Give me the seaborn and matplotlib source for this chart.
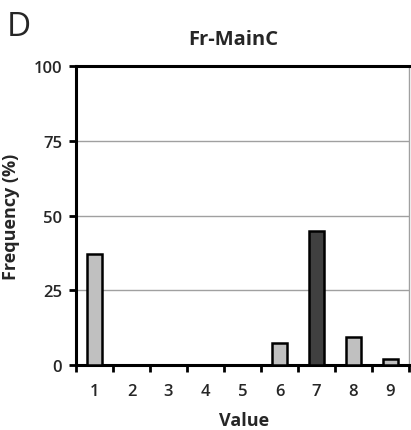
import matplotlib
matplotlib.use("Agg")
import matplotlib.pyplot as plt
import seaborn as sns
import pandas as pd
import numpy as np

categories = ["1", "2", "3", "4", "5", "6", "7", "8", "9"]
frequency = [37.0, 0, 0, 0, 0, 7.5, 44.7, 9.5, 2.0]
bar_colors = ["#C0C0C0"] * 6 + ["#404040"] + ["#C0C0C0"] * 2
y_ticks = [0, 25, 50, 75, 100]

sns.set_style("white")
plt.rcParams['font.family'] = ['Open Sans', 'DejaVu Sans']

fig = plt.figure(figsize=(4.11, 4.31), dpi=100)
ax = fig.add_axes([76/411, 1-366/431, (409-76)/411, (366-67)/431])

df = pd.DataFrame({"Value": categories, "Frequency": frequency})
sns.barplot(data=df, x="Value", y="Frequency", hue="Value", palette=bar_colors,
            legend=False, width=0.42, edgecolor="black", linewidth=1.8, ax=ax, zorder=3)

ax.set_xlim(-0.5, len(categories) - 0.5)
ax.set_ylim(0, 100)
ax.set_yticks(y_ticks)
ax.set_yticklabels([str(t) for t in y_ticks], fontsize=12, fontweight="semibold")
ax.set_xticks(range(len(categories)))
ax.set_xticklabels(categories, fontsize=12, fontweight="semibold")
ax.set_xticks(np.arange(-0.5, len(categories) + 0.5, 1), minor=True)
ax.tick_params(axis="x", which="major", length=0, pad=13)
ax.tick_params(axis="x", which="minor", length=5, width=2, direction="out", color="black", bottom=True)
ax.tick_params(axis="y", which="major", length=5, width=2, direction="out", color="black", left=True, pad=5)

for t in [25, 50, 75]:
    ax.axhline(t, color="#A0A0A0", linewidth=1.0, zorder=1)

for s in ["left", "bottom", "top"]:
    ax.spines[s].set_visible(True)
    ax.spines[s].set_color("black")
    ax.spines[s].set_linewidth(2.2)
ax.spines["right"].set_visible(True)
ax.spines["right"].set_color("#A0A0A0")
ax.spines["right"].set_linewidth(1.0)

ax.set_xlabel("")
ax.set_ylabel("")
fig.text(244/411, 1-421/431, "Value", ha="center", va="center", fontsize=13, fontweight="bold")
fig.text(11/411, 1-217/431, "Frequency (%)", ha="center", va="center", rotation=90,
         fontsize=13, fontweight="bold")
fig.text(233/411, 1-40/431, "Fr-MainC", ha="center", va="center", fontsize=14.5, fontweight="bold")
fig.text(7/411, 1-28/431, "D", ha="left", va="center", fontsize=24)

fig.savefig("out.png", dpi=100)
